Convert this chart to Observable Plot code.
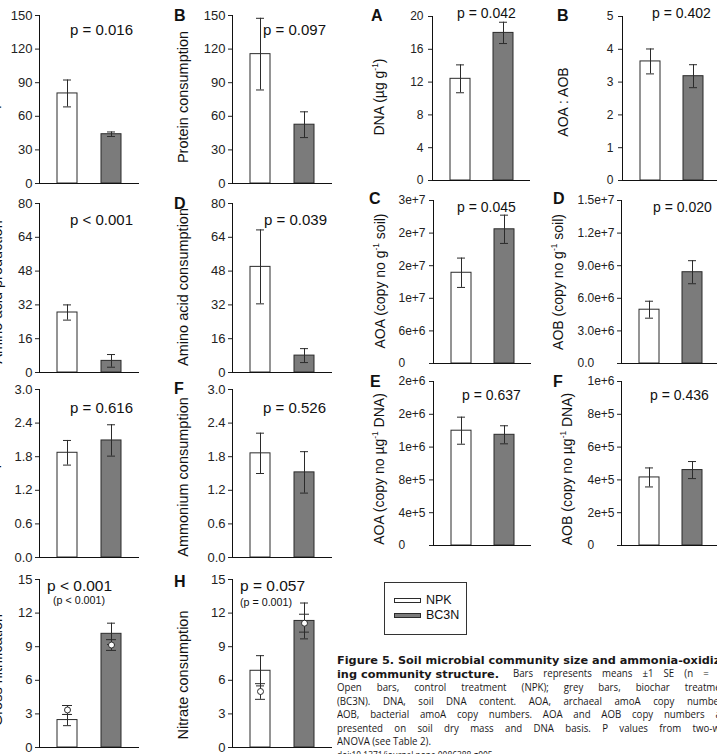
<!DOCTYPE html>
<html>
<head>
<meta charset="utf-8">
<script src="https://cdn.jsdelivr.net/npm/d3@7"></script>
<script src="https://cdn.jsdelivr.net/npm/@observablehq/plot@0.6"></script>
<style>
  html, body { margin: 0; padding: 0; background: #fff; }
  #stage { position: relative; width: 717px; height: 754px; overflow: hidden; background: #fff; }
  #stage svg.panel { position: absolute; overflow: visible; }
  #overlay { position: absolute; left: 0; top: 0; pointer-events: none; }
  .cap { position: absolute; transform: scaleX(0.84); transform-origin: 0 0;
         font-family: "Open Sans", sans-serif; font-size: 11.5px; line-height: 13.5px; color: #1a1718;
         text-align: justify; text-align-last: justify; }
  .cap.last { text-align-last: left; }
  .cap.doi { font-size: 10px; line-height: 12px; text-align-last: left; }
</style>
</head>
<body>
<div id="stage">
  <div class="cap" style="left:513px; top:666.4px; width:258px;">Bars represents means ±1 SE (n = 4).</div>
  <div class="cap" style="left:337px; top:680px; width:468px;">Open bars, control treatment (NPK); grey bars, biochar treatment</div>
  <div class="cap" style="left:337px; top:693.6px; width:468px;">(BC3N). DNA, soil DNA content. AOA, archaeal amoA copy numbers.</div>
  <div class="cap" style="left:337px; top:707.2px; width:468px;">AOB, bacterial amoA copy numbers. AOA and AOB copy numbers are</div>
  <div class="cap" style="left:337px; top:720.8px; width:468px;">presented on soil dry mass and DNA basis. P values from two-way</div>
  <div class="cap last" style="left:337px; top:734.4px; width:468px;">ANOVA (see Table 2).</div>
  <div class="cap doi" style="left:337px; top:748.5px; width:468px;">doi:10.1371/journal.pone.0086388.g005</div>
</div>
<script>
const FONT = "'Liberation Sans', Arial, Helvetica, sans-serif";

// Treatments and bar fills
const treatments = ["NPK", "BC3N"];
const barFills = ["#ffffff", "#7b7b7b"];

// Gross N transformation rates (means and SE)
const proteinProductionMean = [80.4, 44.0];
const proteinProductionSE = [12.0, 2.0];
const proteinConsumptionMean = [115.5, 52.5];
const proteinConsumptionSE = [32.0, 11.5];
const aminoProductionMean = [28.4, 5.5];
const aminoProductionSE = [3.6, 3.0];
const aminoConsumptionMean = [50.0, 8.0];
const aminoConsumptionSE = [17.5, 3.3];
const ammoniumProductionMean = [1.87, 2.09];
const ammoniumProductionSE = [0.22, 0.28];
const ammoniumConsumptionMean = [1.86, 1.52];
const ammoniumConsumptionSE = [0.36, 0.37];
const nitrificationMean = [2.45, 10.15];
const nitrificationSE = [0.5, 0.95];
const nitrificationAltMean = [3.35, 9.15];
const nitrificationAltSE = [0.4, 0.48];
const nitrateConsumptionMean = [6.85, 11.3];
const nitrateConsumptionSE = [1.35, 1.6];
const nitrateConsumptionAltMean = [5.0, 11.1];
const nitrateConsumptionAltSE = [0.7, 0.8];

// Soil microbial community size
const dnaMean = [12.4, 18.0];
const dnaSE = [1.7, 1.3];
const ratioMean = [3.63, 3.18];
const ratioSE = [0.38, 0.35];
const aoaSoilMean = [1.67e7, 2.47e7];
const aoaSoilSE = [0.27e7, 0.26e7];
const aobSoilMean = [4.95e6, 8.4e6];
const aobSoilSE = [0.78e6, 1.06e6];
const aoaDnaMean = [1.40e6, 1.35e6];
const aoaDnaSE = [0.165e6, 0.11e6];
const aobDnaMean = [4.15e5, 4.6e5];
const aobDnaSE = [0.58e5, 0.52e5];

// Tick values and their printed labels
const ticks150 = [0, 30, 60, 90, 120, 150];
const labels150 = ["0", "30", "60", "90", "120", "150"];
const ticks80 = [0, 16, 32, 48, 64, 80];
const labels80 = ["0", "16", "32", "48", "64", "80"];
const ticks3 = [0, 0.6, 1.2, 1.8, 2.4, 3.0];
const labels3 = ["0.0", "0.6", "1.2", "1.8", "2.4", "3.0"];
const ticks15 = [0, 3, 6, 9, 12, 15];
const labels15 = ["0", "3", "6", "9", "12", "15"];
const ticksDna = [0, 4, 8, 12, 16, 20];
const labelsDna = ["0", "4", "8", "12", "16", "20"];
const ticksRatio = [0, 1, 2, 3, 4, 5];
const labelsRatio = ["0", "1", "2", "3", "4", "5"];
const ticksAoaSoil = [0, 6e6, 1.2e7, 1.8e7, 2.4e7, 3e7];
const labelsAoaSoil = ["0", "6e+6", "1e+7", "2e+7", "2e+7", "3e+7"];
const ticksAobSoil = [0, 3e6, 6e6, 9e6, 1.2e7, 1.5e7];
const labelsAobSoil = ["0.0", "3.0e+6", "6.0e+6", "9.0e+6", "1.2e+7", "1.5e+7"];
const ticksAoaDna = [0, 4e5, 8e5, 1.2e6, 1.6e6, 2e6];
const labelsAoaDna = ["0", "4e+5", "8e+5", "1e+6", "2e+6", "2e+6"];
const ticksAobDna = [0, 2e5, 4e5, 6e5, 8e5, 1e6];
const labelsAobDna = ["0", "2e+5", "4e+5", "6e+5", "8e+5", "1e+6"];

const stage = document.getElementById("stage");
const INK = "#2b2b2b";

function rowsOf(mean, se) {
  return treatments.map((t, i) => ({trt: t, mean: mean[i], se: se[i]}));
}

function errorMarks(rows, cap) {
  return [
    Plot.ruleX(rows, {x: "trt", y1: d => d.mean - d.se, y2: d => d.mean + d.se, stroke: INK}),
    Plot.tickY(rows, {x: "trt", y: d => d.mean + d.se, insetLeft: cap, insetRight: cap, stroke: INK}),
    Plot.tickY(rows, {x: "trt", y: d => d.mean - d.se, insetLeft: cap, insetRight: cap, stroke: INK})
  ];
}

function panel(p) {
  const mL = 56, mR = 6, mT = 6, mB = 4;
  const w = p.w ?? 100;
  const h = p.bottom - p.top;
  const rows = rowsOf(p.mean, p.se);
  const lab = new Map(p.ticks.map((t, i) => [t, p.tickLabels[i]]));
  const marks = [
    Plot.barY(rows, {x: "trt", y: "mean", fill: "trt", stroke: INK, strokeWidth: 1}),
    ...errorMarks(rows, p.cap ?? 6)
  ];
  if (p.altMean) {
    const alt = rowsOf(p.altMean, p.altSE);
    marks.push(...errorMarks(alt, 5));
    marks.push(Plot.dot(alt, {x: "trt", y: "mean", r: 3, fill: "#fff", stroke: INK, strokeWidth: 1}));
  }
  marks.push(
    Plot.ruleY([0], {stroke: "#111"}),
    Plot.frame({anchor: "left", stroke: "#111"}),
    Plot.axisY({
      ticks: p.ticks, tickSize: 4, tickPadding: p.tickPad ?? 3,
      tickFormat: d => lab.get(d), label: null,
      textAnchor: p.labelStart ? "start" : "end",
      color: "#222", fontSize: p.font ?? 13
    })
  );
  const svg = Plot.plot({
    width: mL + w + mR, height: mT + h + mB,
    marginLeft: mL, marginRight: mR, marginTop: mT, marginBottom: mB,
    x: {domain: treatments, paddingInner: 0.545, paddingOuter: 0.4, axis: null},
    y: {domain: [0, p.ticks[p.ticks.length - 1]], axis: null},
    color: {domain: treatments, range: barFills},
    style: {background: "transparent", fontFamily: FONT, fontSize: (p.font ?? 13) + "px", color: "#222", overflow: "visible"},
    marks
  });
  svg.classList.add("panel");
  svg.style.left = (p.x - mL) + "px";
  svg.style.top = (p.top - mT) + "px";
  stage.appendChild(svg);
}

// Left block: gross N transformations
panel({x: 39, top: 15, bottom: 183, ticks: ticks150, tickLabels: labels150, mean: proteinProductionMean, se: proteinProductionSE});
panel({x: 232, top: 15, bottom: 183, ticks: ticks150, tickLabels: labels150, mean: proteinConsumptionMean, se: proteinConsumptionSE});
panel({x: 39, top: 203, bottom: 372, ticks: ticks80, tickLabels: labels80, mean: aminoProductionMean, se: aminoProductionSE});
panel({x: 232, top: 203, bottom: 372, ticks: ticks80, tickLabels: labels80, mean: aminoConsumptionMean, se: aminoConsumptionSE});
panel({x: 39, top: 389, bottom: 557, ticks: ticks3, tickLabels: labels3, mean: ammoniumProductionMean, se: ammoniumProductionSE});
panel({x: 232, top: 389, bottom: 557, ticks: ticks3, tickLabels: labels3, mean: ammoniumConsumptionMean, se: ammoniumConsumptionSE});
panel({x: 39, top: 579, bottom: 747, ticks: ticks15, tickLabels: labels15, mean: nitrificationMean, se: nitrificationSE,
       altMean: nitrificationAltMean, altSE: nitrificationAltSE});
panel({x: 232, top: 579, bottom: 747, ticks: ticks15, tickLabels: labels15, mean: nitrateConsumptionMean, se: nitrateConsumptionSE,
       altMean: nitrateConsumptionAltMean, altSE: nitrateConsumptionAltSE});

// Right block: community size
panel({x: 432, top: 16, bottom: 180, w: 98, font: 12, ticks: ticksDna, tickLabels: labelsDna, mean: dnaMean, se: dnaSE, tickPad: 5});
panel({x: 622, top: 16, bottom: 180, w: 98, font: 12, ticks: ticksRatio, tickLabels: labelsRatio, mean: ratioMean, se: ratioSE, tickPad: 5});
panel({x: 433, top: 200, bottom: 363, w: 98, font: 12, ticks: ticksAoaSoil, tickLabels: labelsAoaSoil, mean: aoaSoilMean, se: aoaSoilSE, labelStart: true, tickPad: 31});
panel({x: 621, top: 200, bottom: 363, w: 98, font: 12, ticks: ticksAobSoil, tickLabels: labelsAobSoil, mean: aobSoilMean, se: aobSoilSE, labelStart: true, tickPad: 40});
panel({x: 433, top: 381, bottom: 545, w: 98, font: 12, ticks: ticksAoaDna, tickLabels: labelsAoaDna, mean: aoaDnaMean, se: aoaDnaSE, labelStart: true, tickPad: 31});
panel({x: 621, top: 381, bottom: 545, w: 98, font: 12, ticks: ticksAobDna, tickLabels: labelsAobDna, mean: aobDnaMean, se: aobDnaSE, labelStart: true, tickPad: 30});

// Annotation layer: panel letters, axis titles, p values, legend, caption heading
const ov = d3.select(stage).append("svg").attr("id", "overlay").attr("width", 717).attr("height", 754);

function txt(x, y, parts, {size = 15, weight = 400, anchor = "start", rot = false, fill = "#111", family = FONT} = {}) {
  const t = ov.append("text")
    .attr("font-family", family).attr("font-size", size).attr("font-weight", weight)
    .attr("fill", fill).attr("text-anchor", anchor);
  if (rot) t.attr("transform", `translate(${x},${y}) rotate(-90)`);
  else t.attr("x", x).attr("y", y);
  let pending = 0;
  [].concat(parts).forEach(part => {
    if (typeof part === "string") {
      const s = t.append("tspan").text(part);
      if (pending) { s.attr("dy", pending); pending = 0; }
    } else {
      const up = size * 0.45;
      t.append("tspan").attr("dy", -up).attr("font-size", size * 0.6).text(part.sup);
      pending = up;
    }
  });
  return t;
}

// panel letters
const letter = {size: 16, weight: 700};
txt(174, 21, "B", letter);
txt(174, 209, "D", letter);
txt(174, 394, "F", letter);
txt(174, 587, "H", letter);
txt(371, 21, "A", letter);
txt(557, 21, "B", letter);
txt(369, 204, "C", letter);
txt(553, 204, "D", letter);
txt(370, 387, "E", letter);
txt(553, 387, "F", letter);

// y axis titles
const title = {size: 14.5, anchor: "middle", rot: true};
txt(-2, 100, "Protein production", title);
txt(2, 292, "Amino acid production", title);
txt(-2, 473, "Ammonium production", title);
txt(2, 670, "Gross nitrification", title);
txt(188, 97, "Protein consumption", title);
txt(188, 287, "Amino acid consumption", title);
txt(188, 477, "Ammonium consumption", title);
txt(188, 675, "Nitrate consumption", title);
const title2 = {size: 14, anchor: "middle", rot: true};
txt(384, 97, ["DNA (µg g", {sup: "-1"}, ")"], title2);
txt(568, 102, "AOA : AOB", title2);
txt(385, 281, ["AOA (copy no g", {sup: "-1"}, " soil)"], title2);
txt(563, 282, ["AOB (copy no g", {sup: "-1"}, " soil)"], title2);
txt(384, 469, ["AOA (copy no µg", {sup: "-1"}, " DNA)"], title2);
txt(572, 469, ["AOB (copy no µg", {sup: "-1"}, " DNA)"], title2);

// p values
txt(70, 35, "p = 0.016");
txt(263, 35, "p = 0.097");
txt(70, 225, "p < 0.001");
txt(264, 225, "p = 0.039");
txt(70, 413, "p = 0.616");
txt(263, 413, "p = 0.526");
txt(47, 591, "p < 0.001", {size: 15.5});
txt(53, 604, "(p < 0.001)", {size: 10.7});
txt(240, 591, "p = 0.057", {size: 15.5});
txt(240, 606, "(p = 0.001)", {size: 10.7});
txt(457, 18, "p = 0.042", {size: 14});
txt(652, 18, "p = 0.402", {size: 14});
txt(457, 212, "p = 0.045", {size: 14});
txt(653, 212, "p = 0.020", {size: 14});
txt(462, 400, "p = 0.637", {size: 14});
txt(650, 400, "p = 0.436", {size: 14});

// legend
ov.append("rect").attr("x", 384.5).attr("y", 582.5).attr("width", 82).attr("height", 52)
  .attr("fill", "#fff").attr("stroke", "#333");
treatments.forEach((t, i) => {
  ov.append("rect").attr("x", 394.5).attr("y", 598.5 + i * 15).attr("width", 26).attr("height", 4)
    .attr("fill", barFills[i]).attr("stroke", INK);
  txt(426, 604 + i * 15, t, {size: 12.5});
});

// caption heading (bold)
const head = {size: 11.3, weight: 700, family: "'DejaVu Sans', sans-serif", fill: "#1a1718"};
txt(337, 664, "Figure 5. Soil microbial community size and ammonia-oxidiz-", head);
txt(337, 677.6, "ing community structure.", head);
</script>
</body>
</html>
